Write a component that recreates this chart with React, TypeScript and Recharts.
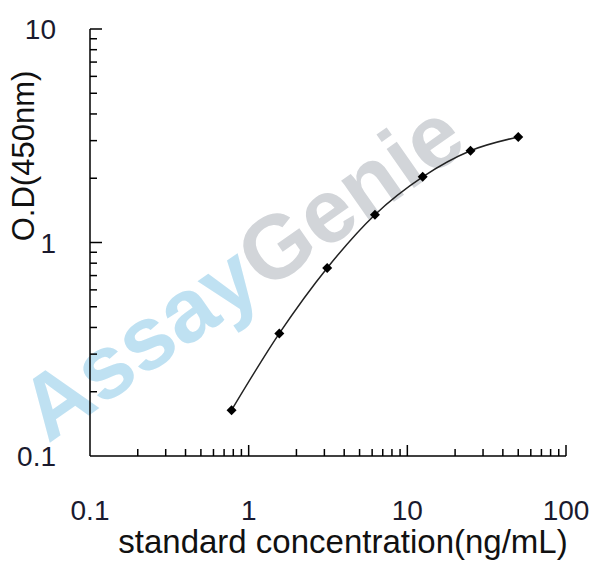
import { LineChart, Line, XAxis, YAxis } from 'recharts';

const concentrations = [0.78, 1.56, 3.125, 6.25, 12.5, 25, 50];
const odValues = [0.164, 0.375, 0.76, 1.35, 2.03, 2.69, 3.12];

const xMajorTicks = [0.1, 1, 10, 100];
const xTicks = [
  0.1, 0.2, 0.3, 0.4, 0.5, 0.6, 0.7, 0.8, 0.9,
  1, 2, 3, 4, 5, 6, 7, 8, 9,
  10, 20, 30, 40, 50, 60, 70, 80, 90, 100,
];
const yMajorTicks = [0.1, 1, 10];
const yTicks = [
  0.1, 0.2, 0.3, 0.4, 0.5, 0.6, 0.7, 0.8, 0.9,
  1, 2, 3, 4, 5, 6, 7, 8, 9, 10,
];

const chartData = concentrations.map((c, i) => ({ conc: c, od: odValues[i] }));

const font = 'Arial, "Liberation Sans", Helvetica, sans-serif';

function XTick(props: any) {
  const { x, y, payload } = props;
  const major = xMajorTicks.includes(payload.value);
  return (
    <g>
      {payload.value !== 0.1 && (
        <line x1={x} y1={y} x2={x} y2={y - (major ? 11 : 7)} stroke="#000" strokeWidth={1.5} />
      )}
      {major && (
        <text x={x} y={y + 64} textAnchor="middle" fontSize={28} fontFamily={font} fill="#1a1a2e">
          {payload.value}
        </text>
      )}
    </g>
  );
}

function YTick(props: any) {
  const { x, y, payload } = props;
  const major = yMajorTicks.includes(payload.value);
  return (
    <g>
      {payload.value !== 0.1 && (
        <line x1={x} y1={y} x2={x + (major ? 12 : 7)} y2={y} stroke="#000" strokeWidth={1.5} />
      )}
      {major && (
        <text x={x - 34} y={y + 10} textAnchor="end" fontSize={28} fontFamily={font} fill="#1a1a2e">
          {payload.value}
        </text>
      )}
    </g>
  );
}

function Diamond(props: any) {
  const { cx, cy } = props;
  if (cx == null || cy == null) return null;
  return <path d={`M${cx},${cy - 5}L${cx + 5},${cy}L${cx},${cy + 5}L${cx - 5},${cy}Z`} fill="#000" />;
}

export default function App() {
  return (
    <div style={{ position: 'absolute', left: 0, top: 0, width: 608, height: 569, background: '#fff' }}>
      <svg width={608} height={569} style={{ position: 'absolute', left: 0, top: 0 }}>
        <text
          transform="translate(48,444) rotate(-35)"
          fontSize={90}
          fontWeight="bold"
          fontFamily={font}
        >
          <tspan fill="#bfe1f2">Assay</tspan>
          <tspan fill="#d2d5d9">Genie</tspan>
        </text>
      </svg>
      <div style={{ position: 'absolute', left: 0, top: 0 }}>
        <LineChart width={608} height={569} data={chartData} margin={{ top: 29, right: 42, bottom: 0, left: 0 }}>
          <XAxis
            dataKey="conc"
            type="number"
            scale="log"
            domain={[0.1, 100]}
            ticks={xTicks}
            interval={0}
            allowDataOverflow
            height={113}
            tickSize={0}
            tickMargin={0}
            tickLine={false}
            axisLine={{ stroke: '#000', strokeWidth: 1.5 }}
            tick={<XTick />}
            label={{
              content: () => (
                <text x={343} y={553} textAnchor="middle" fontSize={33} fontFamily={font} fill="#111">
                  standard concentration(ng/mL)
                </text>
              ),
            }}
          />
          <YAxis
            dataKey="od"
            type="number"
            scale="log"
            domain={[0.1, 10]}
            ticks={yTicks}
            interval={0}
            allowDataOverflow
            width={90}
            tickSize={0}
            tickMargin={0}
            tickLine={false}
            axisLine={{ stroke: '#000', strokeWidth: 1.5 }}
            tick={<YTick />}
            label={{
              content: () => (
                <text
                  transform="translate(34,156) rotate(-90)"
                  textAnchor="middle"
                  fontSize={31}
                  fontFamily={font}
                  fill="#111"
                >
                  O.D(450nm)
                </text>
              ),
            }}
          />
          <Line
            type="monotone"
            dataKey="od"
            stroke="#222"
            strokeWidth={1.5}
            dot={<Diamond />}
            activeDot={false}
            isAnimationActive={false}
          />
        </LineChart>
      </div>
    </div>
  );
}
